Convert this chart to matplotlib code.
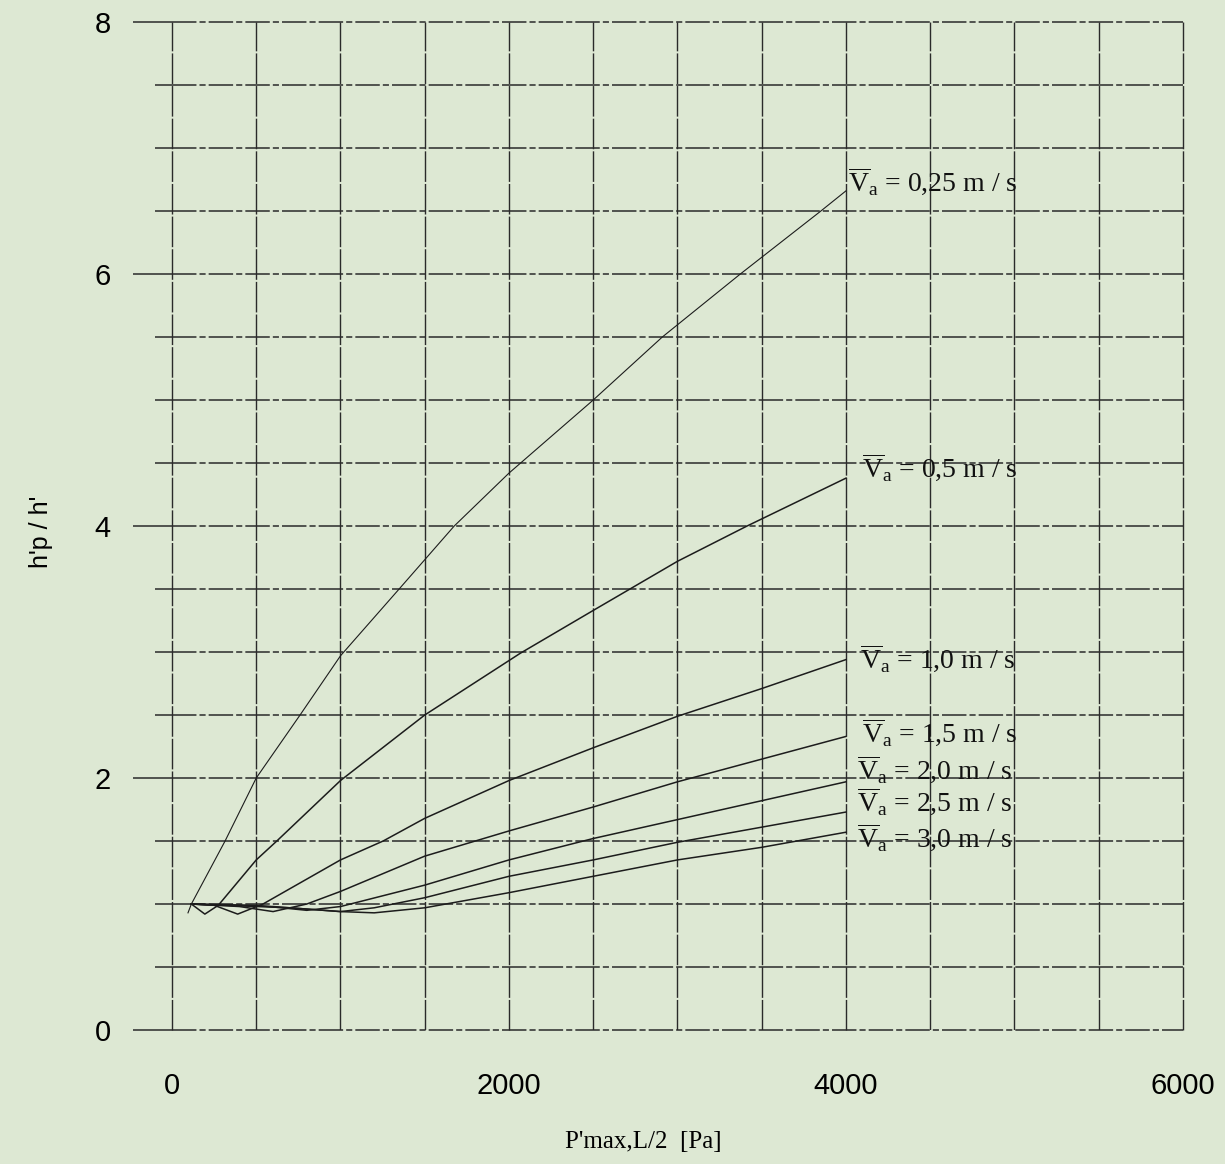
import matplotlib
matplotlib.use('Agg')
from matplotlib import pyplot as plt

# curve data: h'p/h' vs P'max,L/2 [Pa]
x_025 = [95, 115, 315, 500, 760, 1000, 1348, 1675, 2000, 2500, 2910, 3373, 3851, 4000]
y_025 = [0.93, 1.0, 1.5, 2.0, 2.5, 2.97, 3.5, 4.0, 4.42, 5.0, 5.5, 6.0, 6.5, 6.66]

x_05 = [115, 195, 275, 500, 622, 1000, 1500, 2067, 2500, 3000, 3413, 4000]
y_05 = [1.0, 0.92, 0.99, 1.35, 1.5, 1.98, 2.5, 2.99, 3.33, 3.72, 4.0, 4.38]

x_10 = [115, 250, 390, 540, 1000, 1253, 1500, 2000, 2500, 3000, 3500, 4000]
y_10 = [1.0, 0.99, 0.92, 1.0, 1.35, 1.5, 1.68, 1.98, 2.24, 2.49, 2.71, 2.94]

x_15 = [115, 400, 600, 800, 1000, 1500, 2000, 2500, 3000, 3500, 4000]
y_15 = [1.0, 0.98, 0.94, 1.0, 1.1, 1.38, 1.58, 1.77, 1.97, 2.15, 2.33]

x_20 = [115, 500, 800, 1000, 1500, 2000, 2500, 3000, 3500, 4000]
y_20 = [1.0, 0.99, 0.95, 0.98, 1.15, 1.35, 1.52, 1.67, 1.82, 1.97]

x_25 = [115, 600, 1000, 1200, 1500, 2000, 2500, 3000, 3500, 4000]
y_25 = [1.0, 0.98, 0.94, 0.97, 1.05, 1.22, 1.35, 1.49, 1.61, 1.73]

x_30 = [115, 700, 1000, 1200, 1500, 2000, 2500, 3000, 3500, 4000]
y_30 = [1.0, 0.97, 0.94, 0.93, 0.97, 1.09, 1.22, 1.35, 1.45, 1.57]

speeds = ['0,25', '0,5', '1,0', '1,5', '2,0', '2,5', '3,0']

x_ticks = [0, 2000, 4000, 6000]
y_ticks = [0, 2, 4, 6, 8]

curves = [(x_025, y_025), (x_05, y_05), (x_10, y_10), (x_15, y_15),
          (x_20, y_20), (x_25, y_25), (x_30, y_30)]
# label offsets from the curve end, in points
offsets = [(1.5, -0.5), (11.5, 0), (10, -7), (11.5, -5), (8, 1.5), (8, 0), (8, -11.5)]

bg = '#dde8d3'
plt.rcParams['mathtext.fontset'] = 'custom'
plt.rcParams['mathtext.rm'] = 'Liberation Serif'
plt.rcParams['mathtext.it'] = 'Liberation Serif:italic'

fig = plt.figure(figsize=(12.25, 11.64), dpi=100, facecolor=bg)
ax = fig.add_axes([0.1404, 0.1151, 0.8253, 0.866])
ax.set_facecolor(bg)

for (xs, ys), sp, off in zip(curves, speeds, offsets):
    lw = 0.8 if sp == '0,25' else 1.1
    ax.plot(xs, ys, color='#1c1c1c', lw=lw)
    ax.annotate(r'$\overline{\mathrm{V}}_{\mathrm{a}}$ = ' + sp + ' m / s',
                xy=(xs[-1], ys[-1]), xytext=off, textcoords='offset points',
                ha='left', va='baseline', fontsize=20, family='Liberation Serif',
                color='#111111')

ax.set_xlim(0, 6000)
ax.set_ylim(0, 8)

# grid every 500 Pa and every 0.5
ax.set_xticks(x_ticks)
ax.set_xticks(range(0, 6001, 500), minor=True)
ax.set_yticks(y_ticks)
ax.set_yticks([i * 0.5 for i in range(17)], minor=True)
ax.grid(axis='x', which='both', color='#2a2a2a', lw=1.0, linestyle=(0, (22, 1.5)))
ax.grid(axis='y', which='both', color='#2a2a2a', lw=1.1, linestyle=(0, (16, 2, 4, 2)))
for gl in ax.get_xgridlines() + ax.get_ygridlines():
    gl.set_clip_on(False)

for s in ax.spines.values():
    s.set_visible(False)

ax.tick_params(axis='x', which='both', length=0, pad=30, labelsize=21)
ax.tick_params(axis='y', which='major', length=28, width=1.1, color='#2a2a2a', pad=16, labelsize=21)
ax.tick_params(axis='y', which='minor', length=12, width=1.1, color='#2a2a2a')
for lab in ax.get_xticklabels() + ax.get_yticklabels():
    lab.set_family('Liberation Sans')

ax.set_xlabel("P'max,L/2  [Pa]", family='Liberation Serif', fontsize=18)
ax.xaxis.set_label_coords(0.466, -0.1)
ax.set_ylabel("h'p / h'", family='Liberation Sans', fontsize=18)
ax.yaxis.set_label_coords(-0.118, 0.494)

fig.savefig('out.png', dpi=100, facecolor=bg)
